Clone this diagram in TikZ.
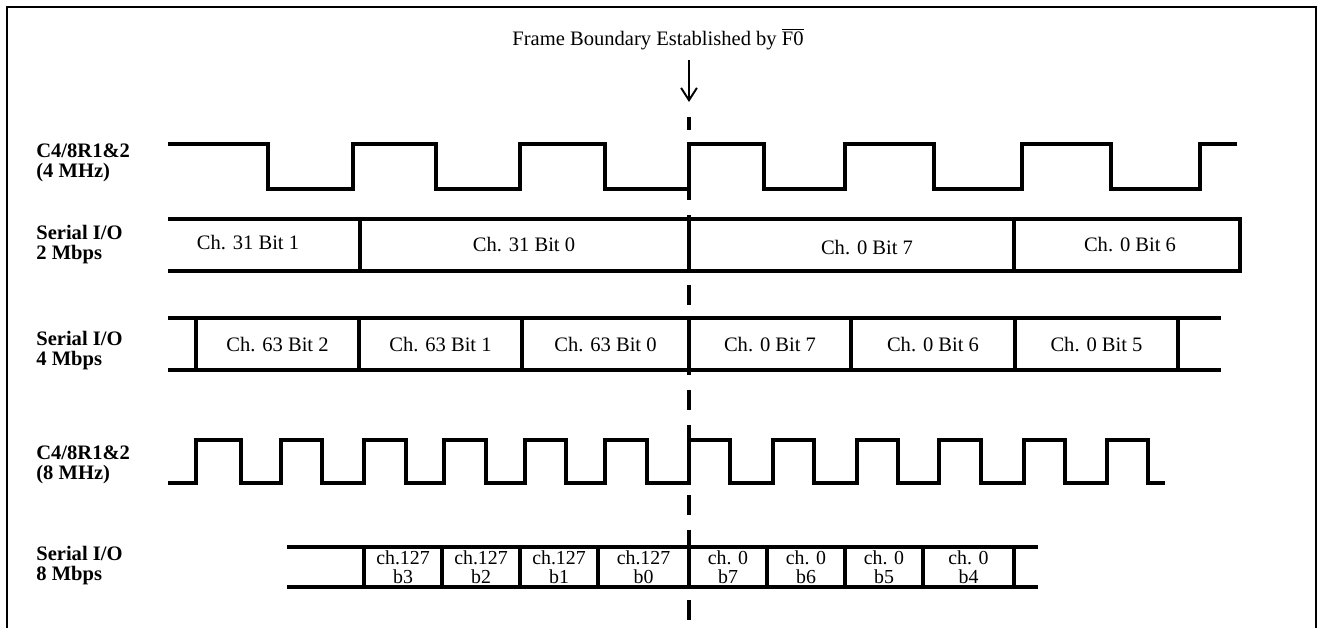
\documentclass[tikz,border=0pt]{standalone}
\usepackage{fontspec}
\setmainfont{Liberation Serif}
\usetikzlibrary{arrows.meta}

\begin{document}
\begin{tikzpicture}[x=0.02cm,y=-0.02cm,line join=miter,>={Straight Barb[length=7pt,width=9pt]},
    wave/.style={line width=2.3pt},
    frameline/.style={line width=1.1pt},
    lbl/.style={anchor=west,align=left,inner sep=0pt,font=\fontsize{11.7}{11.4}\selectfont\bfseries},
    cell/.style={inner sep=0pt,font=\fontsize{11.7}{14}\selectfont},
    smallcell/.style={inner sep=0pt,align=center,font=\fontsize{11.3}{10.8}\selectfont}]
  \useasboundingbox (0,0) rectangle (1323,628);
  % outer frame
  \draw[frameline] (7,628) -- (7,7) -- (1316,7) -- (1316,628);

  % frame boundary
  \node[cell] (title) at (658,39) {Frame Boundary Established by $\overline{\mbox{F0}}$};
  \coordinate (arrtop) at (689,60);
  \coordinate (arrtip) at (689,102);
  \draw[->,line width=1.1pt] (arrtop) -- (arrtip);
  \draw[line width=2.1pt,dash pattern=on 0.4cm off 0.3cm,dash phase=0.14cm] (689,117) -- (689,624);

  % signal names
  \node[lbl] (clk4) at (36,163) {C4/8R1\&2\\(4 MHz)};
  \node[lbl] (ser2) at (36,245) {Serial I/O\\2 Mbps};
  \node[lbl] (ser4) at (36,351) {Serial I/O\\4 Mbps};
  \node[lbl] (clk8) at (36,465) {C4/8R1\&2\\(8 MHz)};
  \node[lbl] (ser8) at (36,566) {Serial I/O\\8 Mbps};

  % 4 MHz clock
  \draw[wave] (168,144) \foreach \a/\b in {268/353,436/520,605/689,764/845,934/1022,1111/1200} {
      -- (\a,144) -- (\a,189) -- (\b,189) -- (\b,144)
    } -- (1237,144);

  % 2 Mbps
  \draw[wave] (168,219) -- (1240,219) -- (1240,271) -- (168,271);
  \foreach \x in {360,689,1014}
    \draw[wave] (\x,219) -- (\x,271);
  \node[cell] (s2a) at (248,243) {Ch. 31 Bit 1};
  \node[cell] (s2b) at (524,245) {Ch. 31 Bit 0};
  \node[cell] (s2c) at (867,248) {Ch. 0 Bit 7};
  \node[cell] (s2d) at (1130,245) {Ch. 0 Bit 6};

  % 4 Mbps
  \draw[wave] (168,318) -- (1221,318);
  \draw[wave] (168,370) -- (1221,370);
  \foreach \x in {196,359,522,689,851,1015,1178}
    \draw[wave] (\x,318) -- (\x,370);
  \foreach \l/\r/\t [count=\i] in {196/359/Ch. 63 Bit 2,359/522/Ch. 63 Bit 1,522/689/Ch. 63 Bit 0,
      689/851/Ch. 0 Bit 7,851/1015/Ch. 0 Bit 6,1015/1178/Ch. 0 Bit 5}
    \node[cell] (s4\i) at ({(\l+\r)/2},345) {\t};

  % 8 MHz clock
  \draw[wave] (168,483) \foreach \a/\b in {196/241,281/322,364/406,444/486,525/566,605/647,
      689/730,773/814,857/898,939/981,1024/1065,1107/1148} {
      -- (\a,483) -- (\a,440) -- (\b,440) -- (\b,483)
    } -- (1165,483);

  % 8 Mbps
  \draw[wave] (287,547) -- (1038,547);
  \draw[wave] (287,587) -- (1038,587);
  \foreach \x in {364,442,520,598,689,767,845,923,1014}
    \draw[wave] (\x,547) -- (\x,587);
  \foreach \l/\r/\c/\b [count=\i] in {364/442/ch.127/b3,442/520/ch.127/b2,520/598/ch.127/b1,
      598/689/ch.127/b0,689/767/ch. 0/b7,767/845/ch. 0/b6,845/923/ch. 0/b5,923/1014/ch. 0/b4}
    \node[smallcell] (s8\i) at ({(\l+\r)/2},567) {\c\\\b};
\end{tikzpicture}
\end{document}
